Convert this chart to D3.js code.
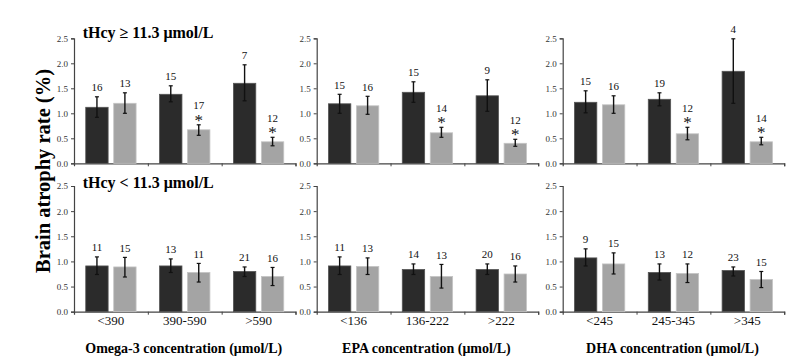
<!DOCTYPE html>
<html lang="en">
<head>
<meta charset="utf-8" />
<title>Brain atrophy rate</title>
<script src="https://d3js.org/d3.v7.min.js"></script>
<style>
  body { margin: 0; background: #fff; }
  svg { font-family: "Liberation Serif", "Times New Roman", serif; }
</style>
</head>
<body>
<div id="chart"></div>
<script>
// categories for each fatty acid panel
const omegaCats = ["<390", "390-590", ">590"];
const epaCats = ["<136", "136-222", ">222"];
const dhaCats = ["<245", "245-345", ">345"];
const panelCats = [omegaCats, epaCats, dhaCats];
const panelTitles = ["Omega-3 concentration (\u03bcmol/L)", "EPA concentration (\u03bcmol/L)", "DHA concentration (\u03bcmol/L)"];
const rowTitles = ["tHcy \u2265 11.3 \u03bcmol/L", "tHcy < 11.3 \u03bcmol/L"];
const yTicks = [0, 0.5, 1.0, 1.5, 2.0, 2.5];

// values listed panel by panel (omega-3, EPA, DHA), 3 groups each
// tHcy >= 11.3
const hiDarkMean = [1.12, 1.38, 1.60, 1.19, 1.42, 1.35, 1.22, 1.28, 1.84];
const hiDarkLo   = [0.92, 1.23, 1.25, 1.00, 1.22, 1.04, 1.01, 1.15, 1.20];
const hiDarkHi   = [1.33, 1.55, 1.97, 1.38, 1.63, 1.67, 1.45, 1.41, 2.49];
const hiLightMean = [1.20, 0.67, 0.43, 1.15, 0.61, 0.40, 1.17, 0.59, 0.43];
const hiLightLo   = [1.00, 0.56, 0.35, 0.98, 0.52, 0.34, 1.00, 0.47, 0.37];
const hiLightHi   = [1.41, 0.77, 0.52, 1.34, 0.72, 0.48, 1.35, 0.72, 0.52];
const hiDarkN  = [16, 15, 7, 15, 15, 9, 15, 19, 4];
const hiLightN = [13, 17, 12, 16, 14, 12, 16, 12, 14];
const hiLightSig = [false, true, true, false, true, true, false, true, true];

// tHcy < 11.3
const loDarkMean = [0.91, 0.91, 0.80, 0.91, 0.84, 0.84, 1.07, 0.78, 0.82];
const loDarkLo   = [0.74, 0.78, 0.70, 0.74, 0.74, 0.74, 0.91, 0.63, 0.71];
const loDarkHi   = [1.09, 1.05, 0.89, 1.09, 0.95, 0.95, 1.25, 0.95, 0.89];
const loLightMean = [0.89, 0.78, 0.70, 0.90, 0.70, 0.75, 0.95, 0.76, 0.64];
const loLightLo   = [0.69, 0.59, 0.52, 0.74, 0.47, 0.59, 0.75, 0.58, 0.48];
const loLightHi   = [1.08, 0.96, 0.88, 1.07, 0.94, 0.91, 1.17, 0.95, 0.80];
const loDarkN  = [11, 13, 21, 11, 14, 20, 9, 13, 23];
const loLightN = [15, 11, 16, 13, 13, 16, 15, 12, 15];
const loLightSig = [false, false, false, false, false, false, false, false, false];

const rows = [
  { dm: hiDarkMean, dl: hiDarkLo, dh: hiDarkHi, lm: hiLightMean, ll: hiLightLo, lh: hiLightHi, dn: hiDarkN, ln: hiLightN, sig: hiLightSig },
  { dm: loDarkMean, dl: loDarkLo, dh: loDarkHi, lm: loLightMean, ll: loLightLo, lh: loLightHi, dn: loDarkN, ln: loLightN, sig: loLightSig }
];

const W = 802, H = 362;
const panelLeft = [74, 316.7, 562.7];
const panelW = 221.5;
const rowTop = [38.3, 186];
const rowBottom = [163.3, 311.7];
const colors = { dark: "#2b2b2b", light: "#a4a4a4" };

const svg = d3.select("#chart").append("svg")
  .attr("width", W).attr("height", H);

// y label
svg.append("text")
  .attr("transform", "translate(50,171) rotate(-90)")
  .attr("text-anchor", "middle")
  .attr("font-size", 20.5).attr("font-weight", "bold")
  .text("Brain atrophy rate (%)");

rows.forEach((row, r) => {
  const y = d3.scaleLinear().domain([0, 2.5]).range([rowBottom[r], rowTop[r]]);

  svg.append("text")
    .attr("x", 82.7).attr("y", rowTop[r] + (r === 0 ? 0 : 2.3))
    .attr("font-size", 16).attr("font-weight", "bold")
    .text(rowTitles[r]);

  panelCats.forEach((cats, p) => {
    const g = svg.append("g").attr("transform", `translate(${panelLeft[p]},0)`);
    const x0 = d3.scaleBand().domain(cats).range([0, panelW]);
    const x1 = d3.scaleBand().domain(["dark", "light"]).range([0, x0.bandwidth()])
      .paddingInner(0.2).paddingOuter(0.42);

    // y axis
    const yAxis = g.append("g").call(d3.axisLeft(y).tickValues(yTicks).tickFormat(d3.format(".1f")).tickSize(3).tickPadding(3));
    yAxis.attr("font-family", "Liberation Serif, serif");
    yAxis.select(".domain").attr("stroke", "#444").attr("stroke-width", 1.2);
    yAxis.selectAll(".tick line").attr("stroke", "#444");
    yAxis.selectAll("text").attr("font-size", 9).attr("fill", "#333");

    // x axis with ticks at group boundaries
    const xAxis = g.append("g").attr("transform", `translate(0,${rowBottom[r]})`)
      .call(d3.axisBottom(d3.scaleLinear().domain([0, 3]).range([0, panelW]))
        .tickValues([1, 2, 3]).tickSize(3).tickFormat(""));
    xAxis.select(".domain").attr("stroke", "#444").attr("stroke-width", 1.2);
    xAxis.selectAll(".tick line").attr("stroke", "#444");

    const groups = cats.map((c, i) => {
      const k = p * 3 + i;
      return {
        cat: c,
        bars: [
          { s: "dark", m: row.dm[k], lo: row.dl[k], hi: row.dh[k], n: row.dn[k], sig: false },
          { s: "light", m: row.lm[k], lo: row.ll[k], hi: row.lh[k], n: row.ln[k], sig: row.sig[k] }
        ]
      };
    });

    const gg = g.selectAll(".grp").data(groups).enter().append("g")
      .attr("transform", d => `translate(${x0(d.cat)},0)`);

    const b = gg.selectAll(".bar").data(d => d.bars).enter().append("g");

    b.append("rect")
      .attr("x", d => x1(d.s))
      .attr("y", d => y(d.m))
      .attr("width", x1.bandwidth())
      .attr("height", d => y(0) - y(d.m))
      .attr("fill", d => colors[d.s])
      .attr("stroke", d => d.s === "dark" ? "#555" : "#c4c4c4")
      .attr("stroke-width", 0.8);

    const cx = d => x1(d.s) + x1.bandwidth() / 2;
    b.append("line")
      .attr("x1", cx).attr("x2", cx)
      .attr("y1", d => y(d.lo)).attr("y2", d => y(d.hi))
      .attr("stroke", "#111").attr("stroke-width", 1.4);
    [d => d.lo, d => d.hi].forEach(f => {
      b.append("line")
        .attr("x1", d => cx(d) - 2).attr("x2", d => cx(d) + 2)
        .attr("y1", d => y(f(d))).attr("y2", d => y(f(d)))
        .attr("stroke", "#111").attr("stroke-width", 1.2);
    });

    b.append("text")
      .attr("x", cx)
      .attr("y", d => y(d.hi) - (d.sig ? 15.5 : 5.5))
      .attr("text-anchor", "middle")
      .attr("font-size", 11).attr("fill", "#111")
      .text(d => d.n);

    b.filter(d => d.sig).append("text")
      .attr("x", cx)
      .attr("y", d => y(d.hi) + 0.8)
      .attr("text-anchor", "middle")
      .attr("font-size", 17).attr("fill", "#111")
      .text("*");

    if (r === 1) {
      g.selectAll(".xl").data(cats).enter().append("text")
        .attr("x", d => x0(d) + x0.bandwidth() / 2)
        .attr("y", 325)
        .attr("text-anchor", "middle")
        .attr("font-size", 13).attr("fill", "#111")
        .text(d => d);
      g.append("text")
        .attr("x", panelW / 2 - 1).attr("y", 352.5)
        .attr("text-anchor", "middle")
        .attr("font-size", 14).attr("font-weight", "bold")
        .text(panelTitles[p]);
    }
  });
});
</script>
</body>
</html>
